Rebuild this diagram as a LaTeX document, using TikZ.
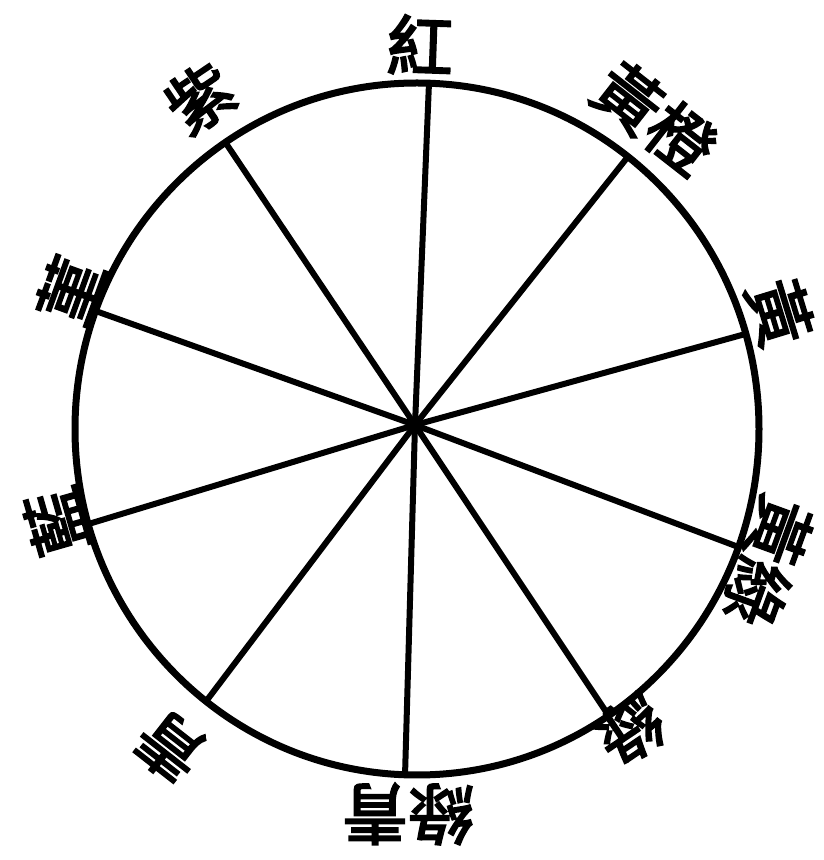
\documentclass[tikz,border=0pt]{standalone}
\usepackage{fontspec}
\usetikzlibrary{calc}
\newfontfamily\cjk{Noto Sans CJK TC}[AutoFakeBold=3]
\begin{document}
\begin{tikzpicture}[x=1pt,y=1pt,
  spoke/.style={line width=6pt},
  rim/.style={line width=7pt},
  lab/.style={inner sep=0pt,font=\cjk\bfseries\fontsize{66}{66}\selectfont}]
\useasboundingbox (0,0) rectangle (823,860);
\fill[white] (0,0) rectangle (823,860);
\coordinate (c) at (415,435);
\coordinate (o) at (417,431);
\foreach \k in {0,...,9}{
  \pgfmathsetmacro{\a}{88-36*\k}
  \coordinate (p\k) at ($(o)+({342*cos(\a)},{345*sin(\a)})$);
}
\draw[rim] (o) ellipse [x radius=342, y radius=346];
\foreach \k in {0,...,9}{\draw[spoke] (c) -- (p\k);}
\node[lab,rotate=-2]   (l0) at (420,815) {紅};
\node[lab,rotate=-38]  (l1) at (655,742) {黃橙};
\node[lab,rotate=-73]  (l2) at (780,548) {黃};
\node[lab,rotate=-110] (l3) at (768,298) {黃綠};
\node[lab,rotate=-146] (l4) at (630,130) {綠};
\node[lab,rotate=180]  (l5) at (408,46)  {綠青};
\node[lab,rotate=142]  (l6) at (170,113) {青};
\node[lab,rotate=106]  (l7) at (56,338)  {藍};
\node[lab,rotate=70]   (l8) at (70,570)  {菫};
\node[lab,rotate=34]   (l9) at (200,762) {紫};
\end{tikzpicture}
\end{document}
